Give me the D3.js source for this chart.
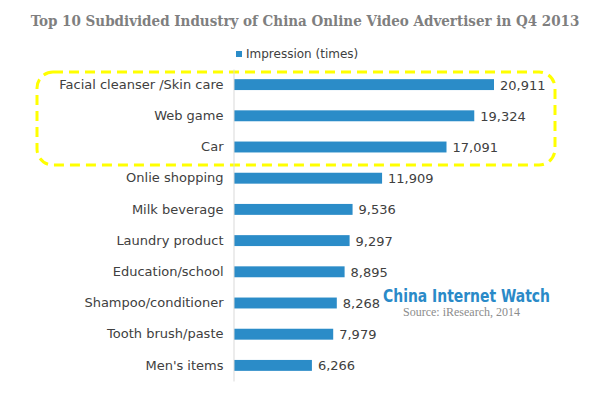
<!DOCTYPE html>
<html>
<head>
<meta charset="utf-8">
<script src="https://d3js.org/d3.v7.min.js"></script>
<style>
  body { margin: 0; background: #fff; }
  svg { display: block; }
</style>
</head>
<body>
<div id="chart"></div>
<script>
// data
var categories = ["Facial cleanser /Skin care", "Web game", "Car", "Onlie shopping", "Milk beverage",
  "Laundry product", "Education/school", "Shampoo/conditioner", "Tooth brush/paste", "Men's items"];
var impressions = [20911, 19324, 17091, 11909, 9536, 9297, 8895, 8268, 7979, 6266];
var seriesName = "Impression (times)";

var barColor = "#2b8cc8";
var textColor = "#404040";

var svg = d3.select("#chart").append("svg")
  .attr("width", 600)
  .attr("height", 398);

// title
svg.append("text")
  .attr("x", 305)
  .attr("y", 26)
  .attr("text-anchor", "middle")
  .style("font-family", "'DejaVu Serif Condensed', 'DejaVu Serif', serif")
  .style("font-weight", "bold")
  .style("font-size", "15px")
  .style("fill", "#7f7f7f")
  .text("Top 10 Subdivided Industry of China Online Video Advertiser in Q4 2013");

// legend
svg.append("rect")
  .attr("x", 236).attr("y", 51)
  .attr("width", 6).attr("height", 6)
  .style("fill", barColor);
svg.append("text")
  .attr("x", 246).attr("y", 58)
  .style("font-family", "'DejaVu Sans', sans-serif")
  .style("font-size", "12px")
  .style("fill", textColor)
  .text(seriesName);

// scales
var x = d3.scaleLinear().domain([0, 20911]).range([234, 494]);
var y = d3.scaleBand().domain(categories).range([69, 381]).paddingInner(0.65).paddingOuter(0.325);

// highlight box round the top three
svg.append("rect")
  .attr("x", 37).attr("y", 72)
  .attr("width", 518).attr("height", 93)
  .attr("rx", 16).attr("ry", 16)
  .style("fill", "none")
  .style("stroke", "#ffff00")
  .style("stroke-width", 3)
  .style("stroke-dasharray", "10,6");

// bars
svg.selectAll(".bar").data(impressions).enter().append("rect")
  .attr("class", "bar")
  .attr("x", x(0))
  .attr("y", function(d, i) { return y(categories[i]); })
  .attr("width", function(d) { return x(d) - x(0); })
  .attr("height", y.bandwidth())
  .style("fill", barColor);

// category axis
var axis = svg.append("g")
  .attr("transform", "translate(" + (x(0) - 0.5) + ",0)")
  .call(d3.axisLeft(y).tickSize(0).tickPadding(10));
axis.select(".domain").style("stroke", "#d9d9d9");
axis.selectAll("text")
  .style("font-family", "'DejaVu Sans', sans-serif")
  .style("font-size", "13px")
  .style("fill", textColor);

// value labels
svg.selectAll(".val").data(impressions).enter().append("text")
  .attr("class", "val")
  .attr("x", function(d) { return x(d) + 6; })
  .attr("y", function(d, i) { return y(categories[i]) + y.bandwidth() / 2 + 5; })
  .style("font-family", "'DejaVu Sans', sans-serif")
  .style("font-size", "13px")
  .style("fill", textColor)
  .text(function(d) { return d3.format(",")(d); });

// watermark
svg.append("text")
  .attr("x", 383).attr("y", 302)
  .attr("textLength", 167)
  .attr("lengthAdjust", "spacingAndGlyphs")
  .style("font-family", "'DejaVu Sans Condensed', 'DejaVu Sans', sans-serif")
  .style("font-weight", "bold")
  .style("font-size", "18px")
  .style("fill", "#2a8ac8")
  .text("China Internet Watch");
svg.append("text")
  .attr("x", 403).attr("y", 316)
  .style("font-family", "'Liberation Serif', serif")
  .style("font-size", "12px")
  .style("fill", "#8c8c8c")
  .text("Source: iResearch, 2014");
</script>
</body>
</html>
